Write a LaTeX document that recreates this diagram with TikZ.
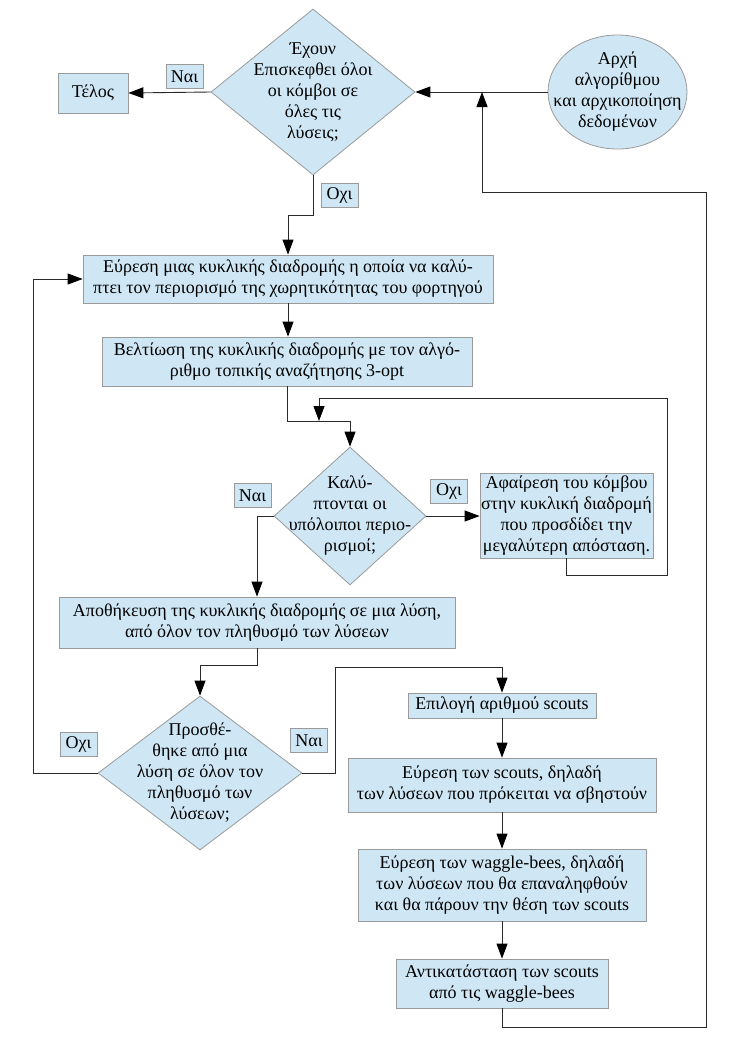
\documentclass[tikz,border=0pt]{standalone}
\usepackage{fontspec}
\setmainfont{Liberation Serif}
\usetikzlibrary{shapes.geometric,arrows.meta}
\definecolor{pale}{HTML}{CFE7F5}
\definecolor{edge}{HTML}{9A9A9A}
\definecolor{wire}{HTML}{2A2A2A}
\begin{document}
\begin{tikzpicture}[x=1pt,y=-1pt,
  txt/.style={font=\fontsize{18}{21}\selectfont, align=center},
  procbox/.style={txt, rectangle, draw=edge, fill=pale, line width=0.8pt, inner sep=0pt},
  decbox/.style={diamond, draw=edge, fill=pale, line width=0.8pt, inner sep=0pt, aspect=1},
  tagbox/.style={txt, rectangle, draw=edge, fill=pale, line width=0.8pt, inner sep=0pt, minimum width=37pt, minimum height=24pt},
  conn/.style={draw=wire, line width=0.9pt},
  arr/.style={conn, -{Triangle[length=15pt,width=11pt,color=black,fill=black]}}
]
\useasboundingbox (0,0) rectangle (735,1049);
\fill[white] (0,0) rectangle (735,1049);

% nodes
\node[procbox, minimum width=70pt, minimum height=40pt] (tel) at (93,93) {Τέλος};
\node[decbox, minimum width=204pt, minimum height=166pt] (d1) at (313,92) {};
\node[txt] (d1t) at (313,92) {Έχουν\\Επισκεφθει όλοι\\οι κόμβοι σε\\όλες τις\\λύσεις;};
\node[txt, ellipse, draw=edge, fill=pale, line width=0.8pt, inner sep=0pt, minimum width=139pt, minimum height=114pt] (st) at (617.5,92) {};
\node[txt] (stt) at (617.5,92) {Αρχή\\αλγορίθμου\\και αρχικοποίηση\\δεδομένων};

\node[procbox, minimum width=410pt, minimum height=48pt] (b1) at (288,279) {Εύρεση μιας κυκλικής διαδρομής η οποία να καλύ-\\πτει τον περιορισμό της χωρητικότητας του φορτηγού};
\node[procbox, minimum width=370pt, minimum height=49pt] (b2) at (287,361.5) {Βελτίωση της κυκλικής διαδρομής με τον αλγό-\\ριθμο τοπικής αναζήτησης 3-opt};

\node[decbox, minimum width=152pt, minimum height=138pt] (d2) at (350,516) {};
\node[txt] (d2t) at (350,516) {Καλύ-\\πτονται οι\\υπόλοιποι περιο-\\ρισμοί;};
\node[procbox, minimum width=173pt, minimum height=85pt] (b3) at (566.5,515.5) {Αφαίρεση του κόμβου\\στην κυκλική διαδρομή\\που προσδίδει την\\μεγαλύτερη απόσταση.};

\node[procbox, minimum width=396pt, minimum height=51pt] (b4) at (257,622.5) {Αποθήκευση της κυκλικής διαδρομής σε μια λύση,\\από όλον τον πληθυσμό των λύσεων};

\node[decbox, minimum width=204pt, minimum height=154pt] (d3) at (200,773) {};
\node[txt] (d3t) at (200,773) {Προσθέ-\\θηκε από μια\\λύση σε όλον τον\\πληθυσμό των\\λύσεων;};

\node[procbox, minimum width=188pt, minimum height=25pt] (b5) at (502,705.5) {Επιλογή αριθμού scouts};
\node[procbox, minimum width=308pt, minimum height=54pt] (b6) at (502,785) {Εύρεση των scouts, δηλαδή\\των λύσεων που πρόκειται να σβηστούν};
\node[procbox, minimum width=288pt, minimum height=72pt] (b7) at (502,885) {Εύρεση των waggle-bees, δηλαδή\\των λύσεων που θα επαναληφθούν\\και θα πάρουν την θέση των scouts};
\node[procbox, minimum width=212pt, minimum height=49pt] (b8) at (502,983.5) {Αντικατάσταση των scouts\\από τις waggle-bees};

% tags
\node[tagbox] (y1) at (184.5,76.5) {Ναι};
\node[tagbox] (n1) at (339.5,195.5) {Οχι};
\node[tagbox] (n2) at (449,491) {Οχι};
\node[tagbox] (y2) at (252.5,495.5) {Ναι};
\node[tagbox] (n3) at (78.5,744) {Οχι};
\node[tagbox] (y3) at (309,740.5) {Ναι};

% helper coordinates
\coordinate (r1) at (706,1027);
\coordinate (r2) at (706,192);
\coordinate (j1) at (482,92);
\coordinate (k1) at (288,215);
\coordinate (k2) at (350,421);
\coordinate (k3) at (667,575);
\coordinate (k4) at (319,398);
\coordinate (k5) at (319,421);
\coordinate (k6) at (200,665);
\coordinate (k7) at (33,773);
\coordinate (k8) at (335,667);

% connectors
\draw[arr] (st.west) -- (d1.east);
\draw[arr] (b8.south) |- (r1) -- (r2) -| (j1);
\draw[arr] (d1.west) -- (tel.east);
\draw[arr] (d1.south) |- (k1) -- (b1.north);
\draw[arr] (b1.south) -- (b1.south |- b2.north);
\draw[arr] (b2.south) |- (k2) -- (d2.north);
\draw[arr] (d2.east) -- (d2.east -| b3.west);
\draw[arr] (b3.south) |- (k3) |- (k4) -- (k5);
\draw[arr] (d2.west) -| (b4.north);
\draw[arr] (b4.south) |- (k6) -- (d3.north);
\draw[arr] (d3.west) -- (k7) |- (b1.west);
\draw[arr] (d3.east) -| (k8) -| (b5.north);
\draw[arr] (b5.south) -- (b6.north);
\draw[arr] (b6.south) -- (b7.north);
\draw[arr] (b7.south) -- (b8.north);
\end{tikzpicture}
\end{document}
